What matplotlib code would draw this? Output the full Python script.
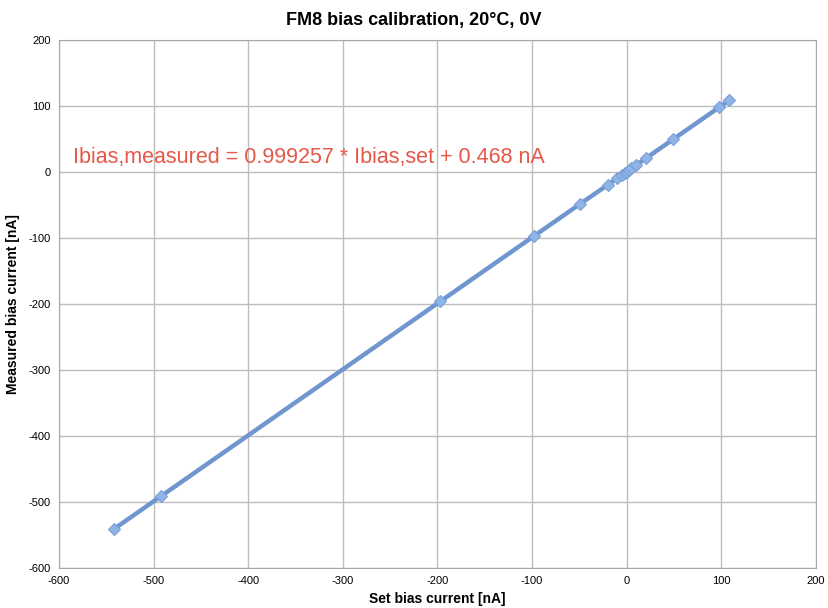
import matplotlib.pyplot as plt

# Set vs measured bias current [nA]
set_current = [-542, -492, -197, -98, -49, -20, -10, -5, -2, 0, 2, 5, 10, 20, 49, 98, 108]
measured_current = [-541, -491, -196, -97, -48, -19.5, -9.5, -4.5, -1.5, 0.5, 2.5, 5.5, 10.5, 20.5, 49.5, 98.4, 108.4]

x_ticks = [-600, -500, -400, -300, -200, -100, 0, 100, 200]
y_ticks = [-600, -500, -400, -300, -200, -100, 0, 100, 200]


def main():
    plt.rcParams['font.family'] = ['Liberation Sans', 'DejaVu Sans']
    plt.rcParams['axes.unicode_minus'] = False
    fig = plt.figure(figsize=(8.29, 6.08), dpi=100)
    ax = fig.add_axes([59 / 829, 1 - 568 / 608, (816 - 59) / 829, (568 - 40) / 608])

    ax.plot(set_current, measured_current, color='#6f96cf', lw=3.2,
            marker='D', ms=6.5, mfc='#8fb4e8', mec='#7aa0d8', mew=0.8, zorder=3)

    ax.set_xlim(-600, 200)
    ax.set_ylim(-600, 200)
    ax.set_xticks(x_ticks)
    ax.set_yticks(y_ticks)
    ax.tick_params(length=0, labelsize=8, pad=6)
    ax.grid(True, color='#bdbdbd', lw=1)
    ax.set_axisbelow(True)
    for s in ax.spines.values():
        s.set_color('#a8a8a8')

    fig.text(414 / 829, 1 - 20 / 608, 'FM8 bias calibration, 20°C, 0V', fontsize=13,
             fontweight='bold', ha='center', va='center')
    ax.set_xlabel('Set bias current [nA]', fontsize=10, fontweight='bold', labelpad=4)
    ax.set_ylabel('Measured bias current [nA]', fontsize=10, fontweight='bold', labelpad=0)
    ax.yaxis.set_label_coords(-39 / 757, 0.5)

    ax.text(-585, 22, 'Ibias,measured = 0.999257 * Ibias,set + 0.468 nA',
            color='#e5584a', fontsize=15.5, va='center')

    fig.savefig('out.png', dpi=100)


if __name__ == "__main__":
    main()
